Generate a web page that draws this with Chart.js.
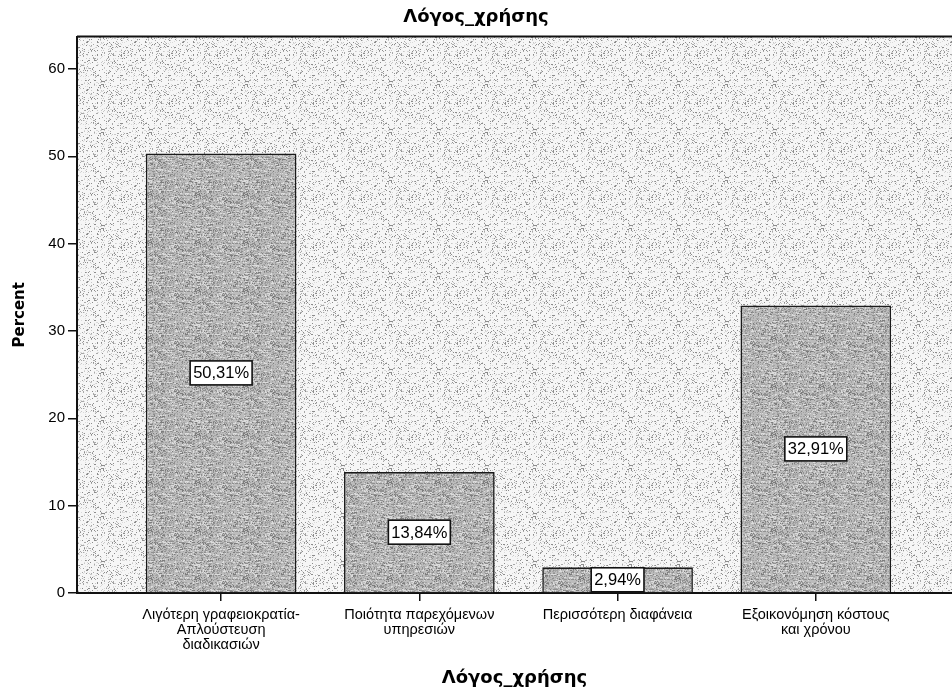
<!DOCTYPE html>
<html>
<head>
<meta charset="utf-8">
<script src="https://cdn.jsdelivr.net/npm/chart.js@4/dist/chart.umd.min.js"></script>
<style>
  html, body { margin: 0; padding: 0; background: #fff; overflow: hidden; }
  #wrap { width: 952px; height: 692px; }
</style>
</head>
<body>
<div id="wrap"><canvas id="c"></canvas></div>
<script>
const chartTitle = "Λόγος_χρήσης";
const axisTitle = "Λόγος_χρήσης";
const yTitle = "Percent";
const categories = [
  ["Λιγότερη γραφειοκρατία-", "Απλούστευση", "διαδικασιών"],
  ["Ποιότητα παρεχόμενων", "υπηρεσιών"],
  ["Περισσότερη διαφάνεια"],
  ["Εξοικονόμηση κόστους", "και χρόνου"],
];
const percents = [50.31, 13.84, 2.94, 32.91];
const yTicks = [0, 10, 20, 30, 40, 50, 60];

const fmt = (v) => v.toFixed(2).replace(".", ",") + "%";

// halftone-ish texture like the scanned SPSS output (fixed hash, not data)
function texture(base, dots, share) {
  const c = document.createElement("canvas");
  c.width = c.height = 48;
  const g = c.getContext("2d");
  g.fillStyle = base;
  g.fillRect(0, 0, 48, 48);
  let h = 12345;
  for (let y = 0; y < 48; y++) {
    for (let x = 0; x < 48; x++) {
      h = (h * 1103515245 + 12345) & 0x7fffffff;
      if ((h % 1000) / 1000 < share) {
        g.fillStyle = dots[(h >> 8) % dots.length];
        g.fillRect(x, y, 1, 1);
      }
    }
  }
  return g.createPattern(c, "repeat");
}
const bgFill = texture("#f6f6f6", ["#a8a8a8", "#c8c8c8", "#8c8c8c", "#dadada"], 0.2);
const barFill = texture("#bcbcbc", ["#909090", "#7c7c7c", "#dcdcdc", "#a4a4a4"], 0.45);

// plot background + top frame line
const plotBg = {
  id: "plotBg",
  beforeDraw(chart) {
    const { ctx, chartArea: a } = chart;
    ctx.save();
    ctx.fillStyle = bgFill;
    ctx.fillRect(a.left, a.top, a.right - a.left, a.bottom - a.top);
    ctx.strokeStyle = "#111";
    ctx.lineWidth = 2;
    ctx.beginPath();
    ctx.moveTo(a.left, a.top);
    ctx.lineTo(a.right, a.top);
    ctx.stroke();
    ctx.restore();
  },
};

// boxed percentage labels in the middle of each bar
const boxLabels = {
  id: "boxLabels",
  afterDatasetsDraw(chart) {
    const { ctx } = chart;
    const meta = chart.getDatasetMeta(0);
    ctx.save();
    ctx.font = "16.5px 'Liberation Sans', Arial, sans-serif";
    ctx.textAlign = "center";
    ctx.textBaseline = "middle";
    meta.data.forEach((bar, i) => {
      const t = fmt(percents[i]);
      const cy = (bar.y + bar.base) / 2;
      const w = ctx.measureText(t).width + 6;
      const h = 24;
      ctx.fillStyle = "#fff";
      ctx.fillRect(bar.x - w / 2, cy - h / 2, w, h);
      ctx.strokeStyle = "#111";
      ctx.lineWidth = 1.6;
      ctx.strokeRect(bar.x - w / 2, cy - h / 2, w, h);
      ctx.fillStyle = "#000";
      ctx.fillText(t, bar.x, cy + 1);
    });
    ctx.restore();
  },
};

new Chart(document.getElementById("c"), {
  type: "bar",
  data: {
    datasets: [{
      data: percents.map((v, i) => ({ x: i, y: v })),
      backgroundColor: barFill,
      borderColor: "#1a1a1a",
      borderWidth: 1.6,
      barPercentage: 0.76,
      categoryPercentage: 1,
    }],
  },
  options: {
    responsive: true,
    maintainAspectRatio: false,
    animation: false,
    layout: { padding: 0 },
    plugins: {
      legend: { display: false },
      tooltip: { enabled: false },
      title: {
        display: true,
        text: chartTitle,
        color: "#000",
        font: { family: "'DejaVu Sans', sans-serif", size: 18, weight: "bold" },
        padding: { top: 7, bottom: 8 },
      },
    },
    scales: {
      x: {
        type: "linear",
        offset: false,
        min: -0.727,
        max: 3.687,
        afterBuildTicks: (s) => { s.ticks = categories.map((_, i) => ({ value: i })); },
        afterFit: (s) => { s.height = 99; },
        ticks: {
          autoSkip: false,
          maxRotation: 0,
          padding: 6,
          color: "#000",
          font: { family: "'Liberation Sans', Arial, sans-serif", size: 14.5, lineHeight: 1.05 },
          callback: (v) => categories[v] || "",
        },
        grid: { offset: false, drawOnChartArea: false, drawTicks: true, tickLength: 8, color: "#111", lineWidth: 1.5 },
        border: { display: true, color: "#111", width: 2 },
        title: {
          display: true,
          text: axisTitle,
          color: "#000",
          font: { family: "'DejaVu Sans', sans-serif", size: 18, weight: "bold" },
          padding: { top: 0, bottom: 3 },
        },
      },
      y: {
        min: 0,
        max: 63.7,
        afterBuildTicks: (s) => { s.ticks = yTicks.map((v) => ({ value: v })); },
        afterFit: (s) => { s.width = 77; },
        ticks: {
          padding: 3,
          color: "#000",
          font: { family: "'Liberation Sans', Arial, sans-serif", size: 15 },
        },
        grid: { drawOnChartArea: false, drawTicks: true, tickLength: 9, color: "#111", lineWidth: 1.5 },
        border: { display: true, color: "#111", width: 2 },
        title: {
          display: true,
          text: yTitle,
          color: "#000",
          font: { family: "'DejaVu Sans', sans-serif", size: 15, weight: "bold" },
          padding: { top: 11, bottom: 0 },
        },
      },
    },
  },
  plugins: [plotBg, boxLabels],
});
</script>
</body>
</html>
